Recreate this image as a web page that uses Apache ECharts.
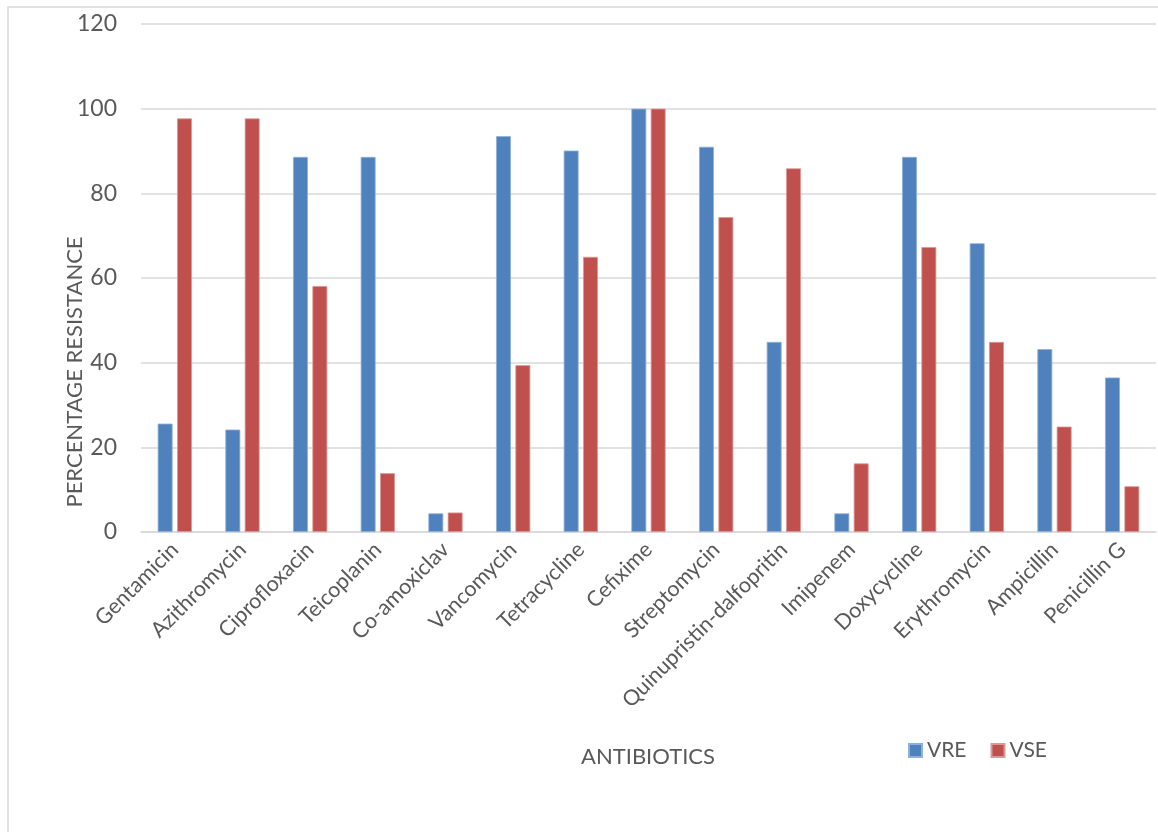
<!DOCTYPE html>
<html>
<head>
<meta charset="utf-8">
<title>Antibiotic resistance: VRE vs VSE</title>
<script src="https://cdn.jsdelivr.net/npm/echarts@6/dist/echarts.min.js"></script>
<style>
  html, body { margin: 0; padding: 0; background: #ffffff; }
  #chart { width: 1158px; height: 832px; }
</style>
</head>
<body>
<div id="chart"></div>
<script>
// Antibiotics tested
const antibiotics = [
  'Gentamicin', 'Azithromycin', 'Ciprofloxacin', 'Teicoplanin', 'Co-amoxiclav',
  'Vancomycin', 'Tetracycline', 'Cefixime', 'Streptomycin', 'Quinupristin-dalfopritin',
  'Imipenem', 'Doxycycline', 'Erythromycin', 'Ampicillin', 'Penicillin G'
];

// Percentage resistance, vancomycin-resistant enterococci
const vre = [25.6, 24.2, 88.6, 88.6, 4.4, 93.5, 90.1, 100, 91.0, 44.9, 4.4, 88.6, 68.2, 43.2, 36.5];

// Percentage resistance, vancomycin-sensitive enterococci
const vse = [97.7, 97.7, 58.1, 13.9, 4.6, 39.4, 65.0, 100, 74.4, 85.9, 16.2, 67.3, 44.9, 24.9, 10.8];

// Value axis ticks
const yTicks = [0, 20, 40, 60, 80, 100, 120];

const FONT = 'Lato, "Open Sans", sans-serif';
const TEXT = '#595959';
const GRID_LINE = '#d9d9d9';

const chart = echarts.init(document.getElementById('chart'), null, { renderer: 'canvas' });

chart.setOption({
  backgroundColor: '#ffffff',
  animation: false,
  grid: { left: 141, right: 2, top: 24, bottom: 300, containLabel: false },
  legend: {
    data: ['VRE', 'VSE'],
    left: 903,
    top: 735,
    icon: 'rect',
    itemWidth: 13,
    itemHeight: 13,
    itemGap: 24,
    textStyle: { color: TEXT, fontSize: 21, fontFamily: FONT }
  },
  xAxis: {
    type: 'category',
    data: antibiotics,
    axisTick: { show: false },
    axisLine: { lineStyle: { color: GRID_LINE, width: 1.5 } },
    axisLabel: {
      rotate: 45,
      interval: 0,
      margin: 14,
      color: TEXT,
      fontSize: 21.5,
      fontFamily: FONT
    }
  },
  yAxis: {
    type: 'value',
    min: yTicks[0],
    max: yTicks[yTicks.length - 1],
    interval: yTicks[1] - yTicks[0],
    axisLine: { show: false },
    axisTick: { show: false },
    splitLine: { lineStyle: { color: GRID_LINE, width: 1.5 } },
    axisLabel: { margin: 24, color: TEXT, fontSize: 23, fontFamily: FONT }
  },
  graphic: [
    // chart-area frame (top and left edges inside the page)
    {
      type: 'rect',
      shape: { x: 8, y: 7, width: 1300, height: 1000 },
      style: { fill: 'none', stroke: '#d9d9d9', lineWidth: 1.5 },
      silent: true,
      z: -1
    },
    {
      type: 'text',
      x: 75,
      y: 372,
      rotation: Math.PI / 2,
      style: {
        text: 'PERCENTAGE RESISTANCE',
        fill: TEXT,
        font: '22px ' + FONT,
        align: 'center',
        verticalAlign: 'middle'
      }
    },
    {
      type: 'text',
      x: 648,
      y: 757,
      style: {
        text: 'ANTIBIOTICS',
        fill: TEXT,
        font: '22px ' + FONT,
        align: 'center',
        verticalAlign: 'middle'
      }
    }
  ],
  series: [
    {
      name: 'VRE',
      type: 'bar',
      data: vre,
      barWidth: '22%',
      barGap: '30%',
      itemStyle: { color: '#4F81BD', borderColor: '#8fb0d8', borderWidth: 0.8 }
    },
    {
      name: 'VSE',
      type: 'bar',
      data: vse,
      barWidth: '22%',
      itemStyle: { color: '#C0504D', borderColor: '#dc9896', borderWidth: 0.8 }
    }
  ]
});
</script>
</body>
</html>
